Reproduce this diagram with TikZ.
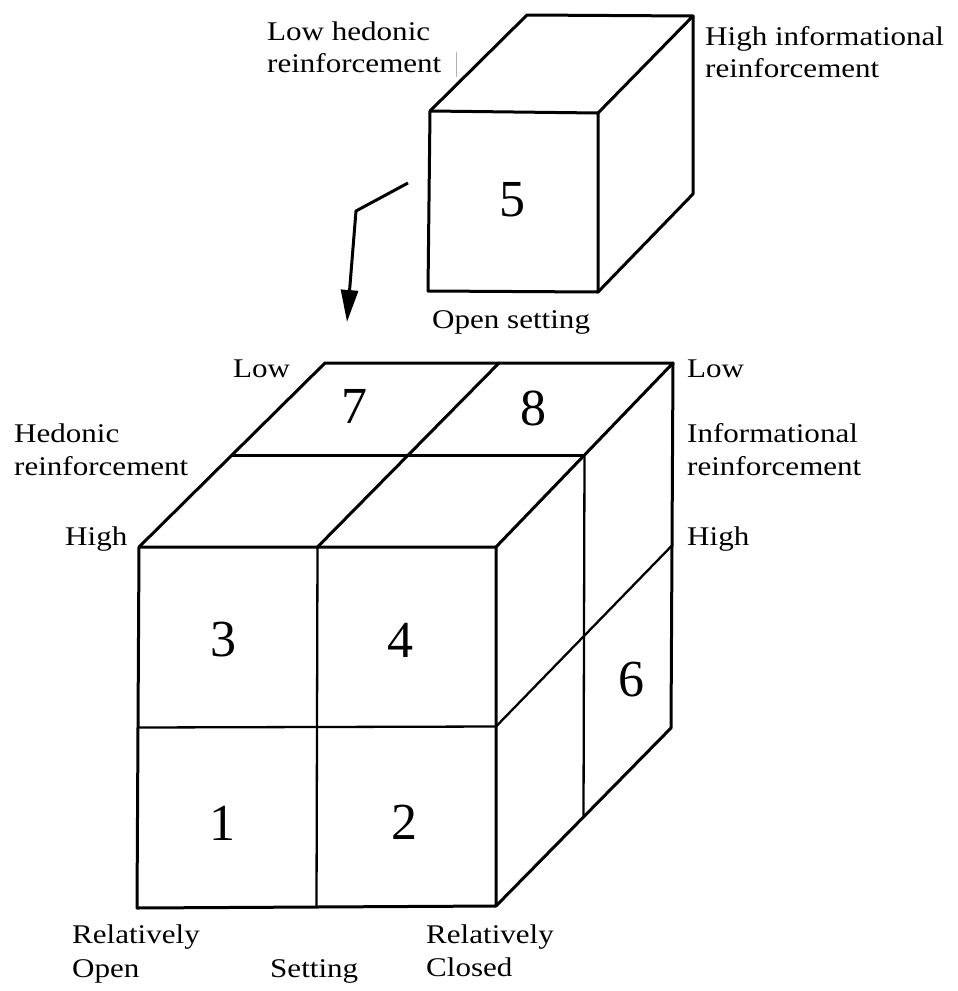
\documentclass[tikz,border=0pt]{standalone}
\usepackage{fontspec}
\setmainfont[FakeStretch=1.15]{Liberation Serif}
\newfontfamily\digitfont{Liberation Serif}
\usetikzlibrary{arrows.meta,calc}
\begin{document}
\begin{tikzpicture}[x=1pt,y=-1pt,
  lbl/.style={anchor=base west, inner sep=0pt, font=\fontsize{27}{32}\selectfont},
  num/.style={inner sep=0pt, font=\digitfont\fontsize{52}{52}\selectfont},
  outer/.style={line width=3pt, line join=round, line cap=round},
  innerln/.style={line width=2.3pt, line cap=round}]
\useasboundingbox (0,0) rectangle (958,991);

% ---------- small cube ----------
\coordinate (sFTL) at (430,111);
\coordinate (sFTR) at (598,113);
\coordinate (sFBL) at (428,291);
\coordinate (sFBR) at (598,292);
\coordinate (sBTL) at (527,15);
\coordinate (sBTR) at (693,16);
\coordinate (sBBR) at (693,194);
\draw[outer] (sFTL) -- (sFTR) -- (sFBR) -- (sFBL) -- cycle;
\draw[outer] (sFTL) -- (sBTL) -- (sBTR) -- (sFTR);
\draw[outer] (sBTR) -- (sBBR) -- (sFBR);
\node[num] (n5) at (512,200) {5};

\node[lbl] (lowhed) at (267,40) {Low hedonic};
\node[lbl] (lowhedr) at (267,72) {reinforcement};
\draw[gray!60, line width=0.8pt] (456,52) -- (456,77);
\node[lbl] (highinf) at (705,45) {High informational};
\node[lbl] (highinfr) at (705,77) {reinforcement};
\node[lbl] (opens) at (432,328) {Open setting};

% ---------- arrow ----------
\coordinate (arS) at (408,183);
\coordinate (arB) at (356,211);
\coordinate (arE) at (347,322);
\draw[line width=3pt, line join=round, -{Triangle[length=32pt,width=17pt]}] (arS) -- (arB) -- (arE);

% ---------- big cube ----------
\coordinate (FTL) at (139,547);
\coordinate (FTR) at (496,547);
\coordinate (FBL) at (137,908);
\coordinate (FBR) at (496,906);
\coordinate (BTL) at (325,363);
\coordinate (BTR) at (673,363);
\coordinate (BBR) at (671,728);

\draw[innerln] ($(FTL)!.5!(FTR)$) -- ($(FBL)!.5!(FBR)$);
\draw[innerln] ($(FTL)!.5!(FBL)$) -- ($(FTR)!.5!(FBR)$);
\draw[outer] ($(FTL)!.5!(BTL)$) -- ($(FTR)!.5!(BTR)$);
\draw[outer] ($(FTL)!.5!(FTR)$) -- ($(BTL)!.5!(BTR)$);
\draw[innerln] ($(FTR)!.5!(BTR)$) -- ($(FBR)!.5!(BBR)$);
\draw[innerln] ($(FTR)!.5!(FBR)$) -- ($(BTR)!.5!(BBR)$);

\draw[outer] (FTL) -- (FTR) -- (FBR) -- (FBL) -- cycle;
\draw[outer] (FTL) -- (BTL) -- (BTR) -- (FTR);
\draw[outer] (BTR) -- (BBR) -- (FBR);

\node[num] (n7) at (354,406) {7};
\node[num] (n8) at (533,408) {8};
\node[num] (n3) at (223,640) {3};
\node[num] (n4) at (400,640) {4};
\node[num] (n6) at (631,680) {6};
\node[num] (n1) at (222,823) {1};
\node[num] (n2) at (404,822) {2};

\node[lbl] (lowL) at (233,377) {Low};
\node[lbl] (lowR) at (687,377) {Low};
\node[lbl] (hed) at (14,442) {Hedonic};
\node[lbl] (hedr) at (14,475) {reinforcement};
\node[lbl] (highL) at (65,545) {High};
\node[lbl] (inf) at (687,442) {Informational};
\node[lbl] (infr) at (687,475) {reinforcement};
\node[lbl] (highR) at (687,545) {High};
\node[lbl] (relO) at (72,943) {Relatively};
\node[lbl] (open) at (72,977) {Open};
\node[lbl] (sett) at (270,977) {Setting};
\node[lbl] (relC) at (426,943) {Relatively};
\node[lbl] (closed) at (426,976) {Closed};
\end{tikzpicture}
\end{document}
